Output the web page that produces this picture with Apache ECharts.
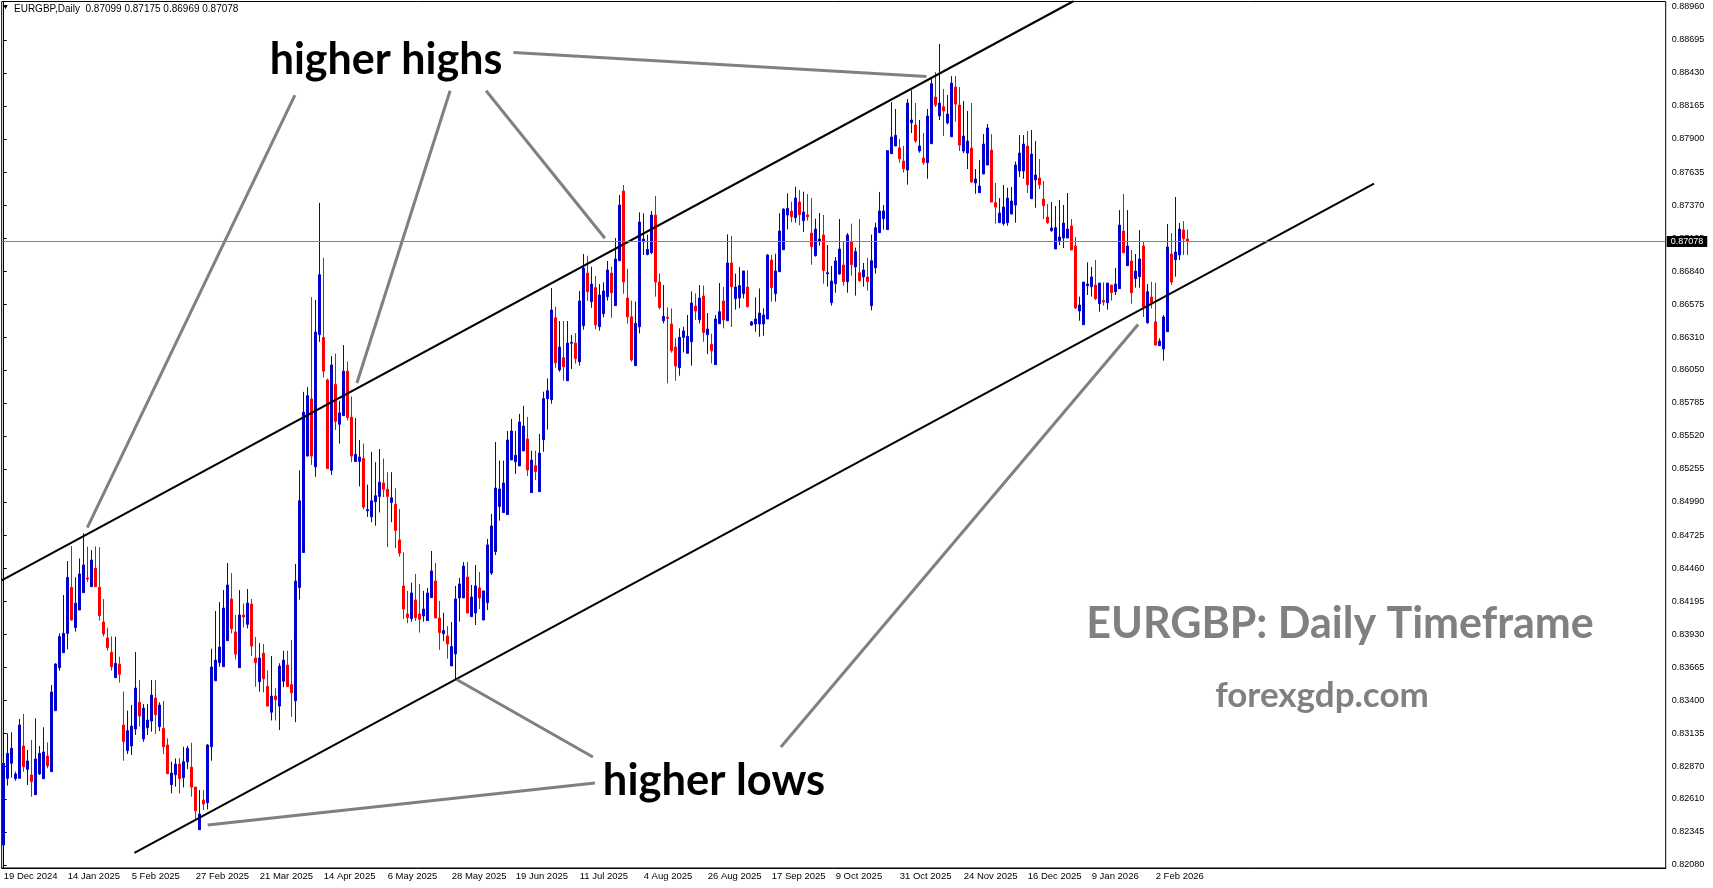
<!DOCTYPE html>
<html>
<head>
<meta charset="utf-8">
<title>EURGBP Daily</title>
<script src="https://cdn.jsdelivr.net/npm/echarts@6/dist/echarts.min.js"></script>
<style>
  html, body { margin: 0; padding: 0; background: #fff; }
  #chart { width: 1713px; height: 888px; }
</style>
</head>
<body>
<div id="chart"></div>
<script>
// daily bars, oldest first (bar 0 = 19 Dec 2024)
const opens = [
  0.82240,0.82775,0.82895,0.82772,0.82775,0.83034,0.82847,0.82802,0.82644,0.82810,
  0.82772,0.82954,0.82828,0.83317,0.83662,0.83782,0.83937,0.84306,0.83983,0.84124,
  0.84263,0.84381,0.84311,0.84458,0.84306,0.84028,0.83900,0.83785,0.83582,0.83691,
  0.83202,0.82997,0.83034,0.83170,0.83384,0.83090,0.83181,0.83234,0.83418,0.83189,
  0.83175,0.83042,0.82724,0.82804,0.82889,0.82780,0.82908,0.82865,0.82705,0.82363,
  0.82601,0.82579,0.83028,0.83557,0.83702,0.83670,0.83878,0.84212,0.83948,0.83662,
  0.84084,0.84009,0.84172,0.83739,0.83549,0.83777,0.83511,0.83305,0.83434,0.83354,
  0.83554,0.83683,0.83526,0.83397,0.84305,0.84585,0.85358,0.85816,0.85272,0.86331,
  0.86309,0.85968,0.85244,0.85931,0.85613,0.85682,0.86039,0.85670,0.85315,0.85315,
  0.85338,0.84920,0.84871,0.84992,0.85035,0.85143,0.85092,0.84986,0.84972,0.84686,
  0.84317,0.84092,0.84055,0.84205,0.84092,0.84076,0.84039,0.84223,0.84357,0.84060,
  0.83935,0.83916,0.83676,0.83772,0.84221,0.84221,0.84389,0.84071,0.84100,0.84301,
  0.84044,0.84183,0.84421,0.84592,0.84953,0.84905,0.84889,0.85327,0.85313,0.85279,
  0.85399,0.85495,0.85065,0.85281,0.85073,0.85489,0.85818,0.85810,0.86467,0.86048,
  0.86147,0.85962,0.86262,0.86264,0.86115,0.86403,0.86825,0.86596,0.86708,0.86395,
  0.86499,0.86636,0.86825,0.86564,0.86924,0.87483,0.86625,0.86475,0.86083,0.86395,
  0.87079,0.86975,0.86988,0.87290,0.86753,0.86443,0.86470,0.86417,0.86232,0.86067,
  0.86310,0.86182,0.86275,0.86561,0.86451,0.86641,0.86331,0.86254,0.86091,0.86419,
  0.86601,0.86443,0.86906,0.86620,0.86625,0.86660,0.86713,0.86409,0.86417,0.86417,
  0.86417,0.86457,0.86930,0.86660,0.86836,0.87012,0.87290,0.87322,0.87269,0.87395,
  0.87245,0.87291,0.87146,0.86965,0.87082,0.87130,0.86820,0.86588,0.86740,0.86818,
  0.86890,0.86756,0.87077,0.86874,0.86828,0.86794,0.86794,0.86564,0.86868,0.87149,
  0.87261,0.87173,0.87782,0.87844,0.87828,0.87723,0.87651,0.88031,0.88012,0.87804,
  0.87747,0.87710,0.87862,0.88236,0.88084,0.88159,0.88028,0.87918,0.88316,0.88172,
  0.87803,0.87787,0.87827,0.87547,0.87469,0.87619,0.87691,0.87811,0.87389,0.87229,
  0.87221,0.87229,0.87298,0.87370,0.87643,0.87643,0.87843,0.87421,0.87573,0.87587,
  0.87418,0.87274,0.87165,0.87018,0.87085,0.87106,0.87106,0.87202,0.87042,0.86521,
  0.86411,0.86724,0.86716,0.86729,0.86580,0.86606,0.86588,0.86729,0.86676,0.86700,
  0.87162,0.86884,0.86922,0.86780,0.86796,0.87042,0.86427,0.86633,0.86435,0.86243,
  0.86216,0.86355,0.86978,0.86932,0.86970,0.87170,0.87099
];
const highs = [
  0.82935,0.83136,0.83144,0.82828,0.83251,0.83291,0.83002,0.83082,0.83256,0.83034,
  0.83184,0.83063,0.83523,0.83697,0.83937,0.84244,0.84517,0.84637,0.84386,0.84538,
  0.84739,0.84632,0.84605,0.84632,0.84627,0.84212,0.83983,0.83911,0.83911,0.83750,
  0.83470,0.83317,0.83363,0.83787,0.83563,0.83370,0.83370,0.83563,0.83563,0.83384,
  0.83394,0.83095,0.82908,0.82935,0.82935,0.83028,0.83036,0.83060,0.82705,0.82681,
  0.82681,0.83050,0.83814,0.84116,0.84188,0.84284,0.84501,0.84420,0.84084,0.84284,
  0.84177,0.84292,0.84212,0.83907,0.83859,0.83851,0.83640,0.83755,0.83497,0.83697,
  0.83798,0.83798,0.83884,0.84493,0.85244,0.85873,0.85911,0.86632,0.86609,0.87388,
  0.86947,0.85979,0.86160,0.86180,0.85802,0.86248,0.86117,0.85836,0.85664,0.85487,
  0.85458,0.85129,0.85392,0.85309,0.85415,0.85338,0.85229,0.85229,0.85100,0.84934,
  0.84587,0.84277,0.84344,0.84413,0.84333,0.84277,0.84301,0.84597,0.84501,0.84197,
  0.84103,0.83996,0.84028,0.84317,0.84381,0.84509,0.84509,0.84325,0.84485,0.84429,
  0.84277,0.84694,0.84894,0.85471,0.85322,0.85322,0.85559,0.85656,0.85559,0.85696,
  0.85760,0.85672,0.85401,0.85401,0.85535,0.85874,0.85981,0.86705,0.86555,0.86441,
  0.86441,0.86441,0.86328,0.86344,0.86681,0.86978,0.86964,0.86876,0.86801,0.86737,
  0.86751,0.86922,0.86876,0.87106,0.87451,0.87531,0.86860,0.86604,0.86596,0.87312,
  0.87304,0.87133,0.87322,0.87443,0.86823,0.86729,0.86550,0.86542,0.86302,0.86382,
  0.86395,0.86489,0.86678,0.86662,0.86729,0.86724,0.86505,0.86339,0.86489,0.86745,
  0.86713,0.87135,0.87122,0.86820,0.86874,0.86842,0.86847,0.86441,0.86630,0.86702,
  0.86542,0.86975,0.86970,0.86980,0.87304,0.87344,0.87464,0.87397,0.87518,0.87491,
  0.87478,0.87459,0.87427,0.87261,0.87307,0.87291,0.87050,0.86882,0.86954,0.87258,
  0.87082,0.87146,0.87221,0.87029,0.87258,0.86906,0.86946,0.87133,0.87229,0.87475,
  0.87371,0.87806,0.88196,0.88140,0.87900,0.87844,0.88220,0.88290,0.88188,0.88052,
  0.87948,0.88140,0.88380,0.88436,0.88661,0.88300,0.88252,0.88404,0.88404,0.88316,
  0.88204,0.88124,0.88188,0.87659,0.87731,0.87939,0.88020,0.87939,0.87547,0.87426,
  0.87531,0.87509,0.87515,0.87718,0.87931,0.87931,0.87963,0.87972,0.87883,0.87739,
  0.87563,0.87378,0.87394,0.87362,0.87411,0.87371,0.87467,0.87258,0.87114,0.86636,
  0.86753,0.86911,0.86874,0.86930,0.86745,0.86751,0.86745,0.86729,0.86866,0.87330,
  0.87459,0.87330,0.87010,0.86978,0.87170,0.87074,0.86737,0.86756,0.86748,0.86302,
  0.86489,0.87218,0.87146,0.87435,0.87226,0.87242,0.87175
];
const lows = [
  0.82227,0.82716,0.82780,0.82756,0.82775,0.82828,0.82721,0.82628,0.82644,0.82802,
  0.82772,0.82855,0.82828,0.83317,0.83638,0.83782,0.83809,0.84039,0.83951,0.84124,
  0.84263,0.84351,0.84311,0.84311,0.84039,0.83911,0.83798,0.83638,0.83582,0.83542,
  0.82916,0.82970,0.82962,0.83122,0.83189,0.83068,0.83122,0.83149,0.83130,0.83154,
  0.82970,0.82812,0.82654,0.82708,0.82654,0.82702,0.82849,0.82628,0.82441,0.82363,
  0.82521,0.82526,0.82916,0.83557,0.83670,0.83670,0.83878,0.83937,0.83728,0.83662,
  0.83985,0.83977,0.83755,0.83509,0.83469,0.83464,0.83354,0.83239,0.83239,0.83162,
  0.83506,0.83506,0.83268,0.83225,0.84207,0.84585,0.85358,0.85287,0.85192,0.86274,
  0.85988,0.85258,0.85206,0.85567,0.85458,0.85682,0.85644,0.85309,0.85315,0.85115,
  0.84929,0.84871,0.84828,0.84800,0.84906,0.85029,0.84628,0.84828,0.84620,0.84552,
  0.84052,0.84018,0.84031,0.84036,0.83943,0.84031,0.84039,0.84223,0.84060,0.83804,
  0.83876,0.83734,0.83676,0.83569,0.84031,0.84221,0.84100,0.84071,0.84004,0.84132,
  0.84044,0.84124,0.84405,0.84565,0.84841,0.84905,0.84889,0.85327,0.85215,0.85279,
  0.85399,0.85199,0.85065,0.85166,0.85073,0.85393,0.85570,0.85778,0.86066,0.86034,
  0.85962,0.85962,0.86056,0.86099,0.86083,0.86371,0.86601,0.86547,0.86374,0.86363,
  0.86470,0.86604,0.86467,0.86564,0.86924,0.86660,0.86419,0.86115,0.86083,0.86342,
  0.86970,0.86967,0.86978,0.86636,0.86534,0.86422,0.85941,0.86187,0.85962,0.86002,
  0.86189,0.86182,0.86083,0.86449,0.86422,0.86275,0.86176,0.86101,0.86091,0.86419,
  0.86382,0.86443,0.86393,0.86532,0.86542,0.86622,0.86550,0.86403,0.86355,0.86315,
  0.86323,0.86457,0.86596,0.86596,0.86836,0.87012,0.87175,0.87232,0.87229,0.87208,
  0.87154,0.87245,0.86892,0.86957,0.87045,0.86740,0.86716,0.86564,0.86668,0.86812,
  0.86724,0.86668,0.86804,0.86644,0.86756,0.86716,0.86684,0.86526,0.86820,0.87149,
  0.87173,0.87173,0.87782,0.87844,0.87710,0.87630,0.87534,0.87948,0.87868,0.87790,
  0.87694,0.87581,0.87862,0.88156,0.88052,0.87923,0.88017,0.87918,0.88038,0.87803,
  0.87787,0.87659,0.87547,0.87461,0.87469,0.87619,0.87691,0.87394,0.87221,0.87229,
  0.87205,0.87205,0.87298,0.87229,0.87595,0.87581,0.87466,0.87421,0.87349,0.87499,
  0.87258,0.87221,0.87157,0.87018,0.87050,0.87026,0.87106,0.87010,0.86537,0.86443,
  0.86411,0.86649,0.86636,0.86609,0.86515,0.86564,0.86532,0.86604,0.86649,0.86700,
  0.86988,0.86884,0.86580,0.86708,0.86708,0.86473,0.86419,0.86542,0.86243,0.86243,
  0.86123,0.86355,0.86729,0.86796,0.86930,0.86970,0.86969
];
const closes = [
  0.82895,0.82975,0.83015,0.82810,0.83202,0.82868,0.82914,0.82748,0.82930,0.82975,
  0.82986,0.82874,0.83467,0.83691,0.83911,0.83937,0.84386,0.84044,0.84178,0.84413,
  0.84485,0.84373,0.84525,0.84311,0.84079,0.83932,0.83822,0.83670,0.83697,0.83609,
  0.83069,0.83157,0.83194,0.83499,0.83274,0.83338,0.83242,0.83442,0.83285,0.83362,
  0.83028,0.82812,0.82817,0.82889,0.82772,0.82908,0.83015,0.82705,0.82515,0.82489,
  0.82569,0.83042,0.83667,0.83723,0.83827,0.84140,0.84324,0.83974,0.83771,0.84084,
  0.84068,0.84180,0.83835,0.83702,0.83739,0.83573,0.83354,0.83434,0.83406,0.83675,
  0.83723,0.83511,0.83460,0.84356,0.85000,0.85710,0.85842,0.85358,0.86352,0.86812,
  0.86039,0.85258,0.86088,0.85636,0.85704,0.86039,0.85667,0.85358,0.85372,0.85350,
  0.84949,0.84929,0.85000,0.85040,0.85149,0.85092,0.85035,0.85023,0.84762,0.84579,
  0.84132,0.84063,0.84261,0.84063,0.84050,0.84132,0.84261,0.84437,0.84060,0.83943,
  0.83959,0.83852,0.83831,0.84213,0.84333,0.84477,0.84100,0.84229,0.84317,0.84221,
  0.84277,0.84646,0.84798,0.85102,0.85094,0.85142,0.85487,0.85559,0.85364,0.85631,
  0.85599,0.85247,0.85326,0.85233,0.85382,0.85818,0.85882,0.86529,0.86107,0.86232,
  0.86074,0.86264,0.86270,0.86139,0.86601,0.86865,0.86676,0.86737,0.86409,0.86649,
  0.86681,0.86849,0.86668,0.86938,0.87370,0.86753,0.86475,0.86128,0.86422,0.87234,
  0.87098,0.87015,0.87290,0.86753,0.86550,0.86478,0.86462,0.86203,0.86080,0.86310,
  0.86361,0.86318,0.86585,0.86521,0.86625,0.86350,0.86377,0.86203,0.86457,0.86515,
  0.86449,0.86906,0.86716,0.86713,0.86724,0.86842,0.86556,0.86433,0.86457,0.86505,
  0.86489,0.86970,0.86708,0.86842,0.87162,0.87338,0.87344,0.87277,0.87427,0.87293,
  0.87315,0.87277,0.87037,0.87178,0.87098,0.86846,0.86828,0.86761,0.86922,0.87018,
  0.86756,0.87130,0.86892,0.86997,0.86764,0.86850,0.86756,0.86924,0.87189,0.87323,
  0.87323,0.87806,0.87916,0.87929,0.87742,0.87662,0.88188,0.88052,0.87884,0.87844,
  0.87710,0.88084,0.88343,0.88172,0.88188,0.88124,0.88100,0.88348,0.88180,0.87851,
  0.87923,0.87883,0.87555,0.87579,0.87523,0.87859,0.87988,0.87394,0.87354,0.87306,
  0.87354,0.87426,0.87402,0.87691,0.87787,0.87859,0.87533,0.87779,0.87611,0.87533,
  0.87365,0.87229,0.87186,0.87189,0.87114,0.87226,0.87178,0.87010,0.86545,0.86569,
  0.86753,0.86737,0.86793,0.86620,0.86745,0.86593,0.86745,0.86668,0.86737,0.87210,
  0.86988,0.87042,0.86668,0.86841,0.86938,0.86553,0.86676,0.86585,0.86248,0.86280,
  0.86473,0.87034,0.86753,0.86994,0.87178,0.87101,0.87078
];

// x labels, one every 16 bars
const dateLabels = ['19 Dec 2024','14 Jan 2025','5 Feb 2025','27 Feb 2025','21 Mar 2025','14 Apr 2025',
  '6 May 2025','28 May 2025','19 Jun 2025','11 Jul 2025','4 Aug 2025','26 Aug 2025','17 Sep 2025',
  '9 Oct 2025','31 Oct 2025','24 Nov 2025','16 Dec 2025','9 Jan 2026','2 Feb 2026'];
const labelStep = 16;
const slotCount = 416; // bars + empty chart shift on the right

const priceTicks = [0.82080,0.82345,0.82610,0.82870,0.83135,0.83400,0.83665,0.83930,0.84195,
  0.84460,0.84725,0.84990,0.85255,0.85520,0.85785,0.86050,0.86310,0.86575,0.86840,0.87105,
  0.87370,0.87635,0.87900,0.88165,0.88430,0.88695,0.88960];
const lastPrice = 0.87078;

// channel lines and pointer lines, [bar index, price]
const upperChannel = [[-0.5, 0.84362], [267.5, 0.89006]];
const lowerChannel = [[32.675, 0.82177], [342.575, 0.87543]];
const highPointers = [
  [[72.8, 0.88252], [20.9, 0.84784]],
  [[111.6, 0.88287], [88.3, 0.85944]],
  [[120.6, 0.88287], [150.3, 0.87104]],
  [[127.45, 0.88594], [230.7, 0.88401]]
];
const lowPointers = [
  [[147.8, 0.82738], [51.0, 0.82401]],
  [[147.3, 0.82946], [113.25, 0.83567]],
  [[194.3, 0.83026], [283.6, 0.86413]]
];

const slots = Array.from({ length: slotCount }, (_, i) => String(i));
const candles = opens.map((o, i) => [o, closes[i], lows[i], highs[i]]);
const isLabelSlot = i => i % labelStep === 0 && i / labelStep < dateLabels.length;

const bull = '#0000CC', bear = '#FF0000';
const mt4Font = 'Liberation Sans';

function segment(pts, color, width) {
  return {
    type: 'line', xAxisIndex: 1, yAxisIndex: 0, data: pts,
    showSymbol: false, symbol: 'none', silent: true, z: 4,
    lineStyle: { color: color, width: width }
  };
}

const chart = echarts.init(document.getElementById('chart'));
chart.setOption({
  animation: false,
  backgroundColor: '#ffffff',
  grid: {
    left: 1.7, top: 1.5, width: 1664, height: 866.5,
    show: true, borderColor: '#000', borderWidth: 1, backgroundColor: 'transparent'
  },
  xAxis: [
    {
      type: 'category', data: slots, boundaryGap: true,
      axisLine: { lineStyle: { color: '#000', width: 1 } },
      axisTick: { alignWithLabel: true, interval: isLabelSlot, length: 3, lineStyle: { color: '#000' } },
      axisLabel: {
        interval: isLabelSlot, align: 'left', margin: 3,
        color: '#000', fontSize: 9.5, fontFamily: mt4Font,
        formatter: (v, i) => dateLabels[i / labelStep] || ''
      },
      splitLine: { show: false }
    },
    { type: 'value', min: -0.5, max: slotCount - 0.5, show: false }
  ],
  yAxis: {
    type: 'value', position: 'right', min: 0.82056, max: 0.89002,
    axisLine: { show: true, lineStyle: { color: '#000', width: 1 } },
    axisTick: { show: true, customValues: priceTicks, length: 3, lineStyle: { color: '#000' } },
    axisLabel: {
      customValues: priceTicks, margin: 6, color: '#000', fontSize: 9, fontFamily: mt4Font,
      formatter: v => v.toFixed(5)
    },
    splitLine: { show: false }
  },
  series: [
    {
      type: 'candlestick', name: 'EURGBP', data: candles, barWidth: 2, z: 2,
      itemStyle: { color: bull, color0: bear, borderColor: bull, borderColor0: bear, borderWidth: 1 },
      markLine: {
        silent: true, symbol: 'none', precision: 5,
        lineStyle: { color: '#778899', width: 1, type: 'solid' },
        label: {
          position: 'end', distance: 1, formatter: lastPrice.toFixed(5),
          color: '#fff', backgroundColor: '#000', fontSize: 9, fontFamily: mt4Font,
          padding: [1, 4, 1, 4]
        },
        data: [{ yAxis: lastPrice }]
      }
    },
    segment(upperChannel, '#000', 2),
    segment(lowerChannel, '#000', 2),
    ...highPointers.map(p => segment(p, '#808080', 3)),
    ...lowPointers.map(p => segment(p, '#808080', 3))
  ],
  graphic: [
    { type: 'polygon', shape: { points: [[3.3, 5], [7.7, 5], [5.5, 9.2]] }, style: { fill: '#000' } },
    { type: 'text', x: 14, y: 9, style: {
        text: 'EURGBP,Daily  0.87099 0.87175 0.86969 0.87078', fill: '#000',
        fontSize: 10, fontFamily: mt4Font, verticalAlign: 'middle' } },
    { type: 'text', x: 386, y: 60, z: 10, style: {
        text: 'higher highs', fill: '#000', fontSize: 43, fontWeight: 'bold', fontFamily: 'Lato',
        align: 'center', verticalAlign: 'middle' } },
    { type: 'text', x: 714, y: 781, z: 10, style: {
        text: 'higher lows', fill: '#000', fontSize: 43.5, fontWeight: 'bold', fontFamily: 'Lato',
        align: 'center', verticalAlign: 'middle' } },
    { type: 'text', x: 1340, y: 624, z: 10, style: {
        text: 'EURGBP: Daily Timeframe', fill: '#808080', fontSize: 43, fontWeight: 'bold', fontFamily: 'Lato',
        align: 'center', verticalAlign: 'middle' } },
    { type: 'text', x: 1322, y: 696, z: 10, style: {
        text: 'forexgdp.com', fill: '#808080', fontSize: 35, fontWeight: 'bold', fontFamily: 'Lato',
        align: 'center', verticalAlign: 'middle' } }
  ]
});
</script>
</body>
</html>
